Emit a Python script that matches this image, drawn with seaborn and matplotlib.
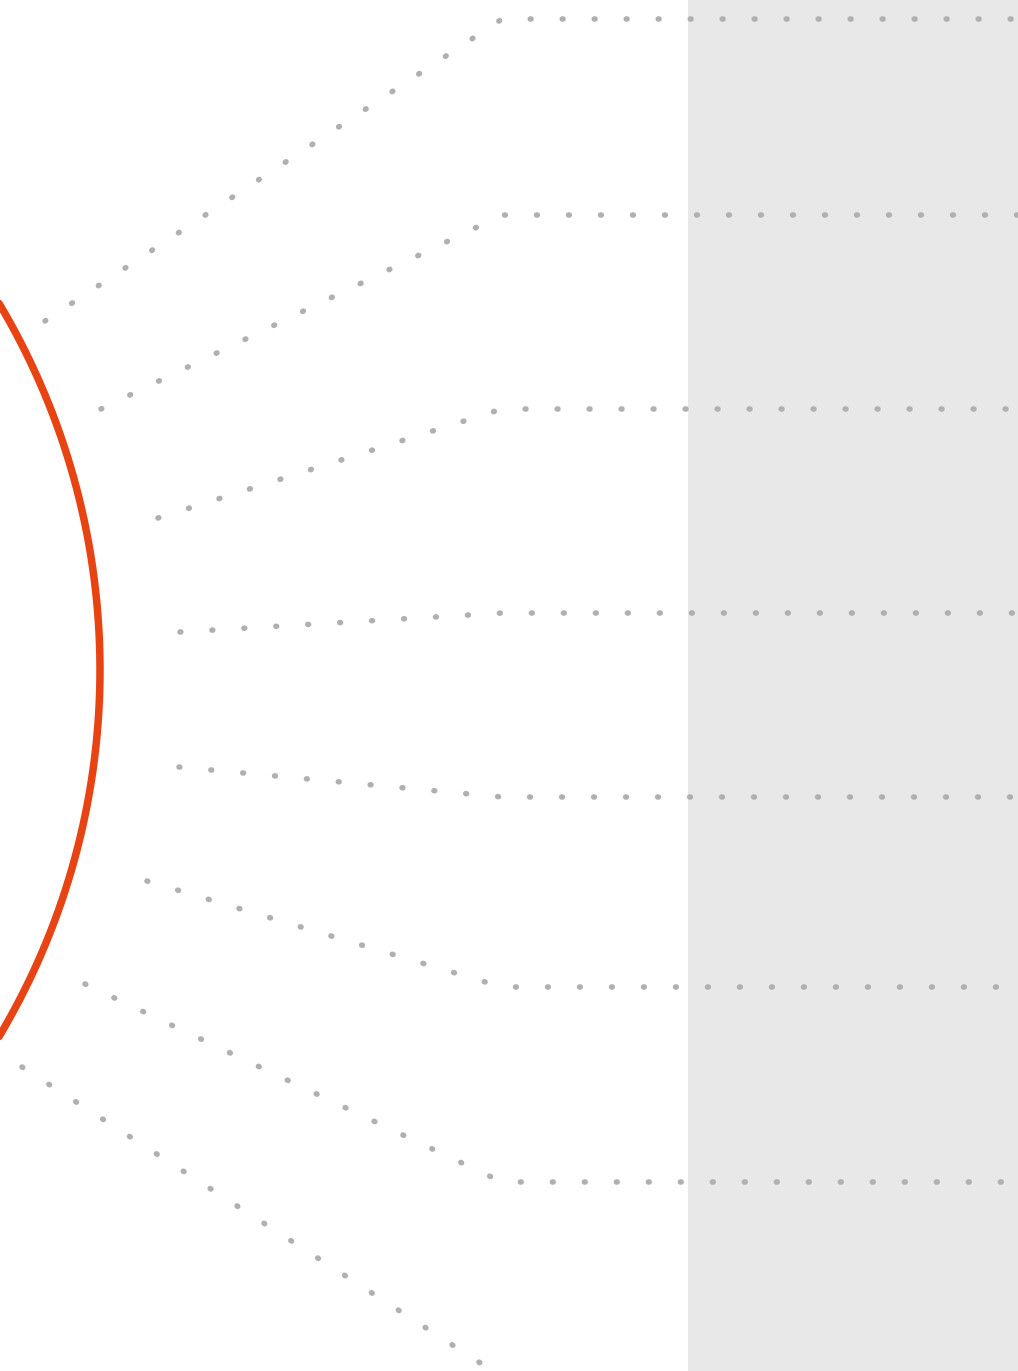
import numpy as np
import pandas as pd
import seaborn as sns
from matplotlib import pyplot as plt

# node positions (pixel space of the original picture)
src_x = [45, 101, 158, 180, 179, 147, 85, 22]
src_y = [321, 409, 518, 632, 767, 881, 984, 1067]
tgt_y = [19, 215, 409, 613, 797, 987, 1182, 1377]
bend_x = 502
end_x = 1040

# big orange ring (center + radius)
ring_cx, ring_cy, ring_r = -616, 670, 716

# grey band on the right
band_x0, band_x1 = 688, 1018

W, H = 1018, 1371

sns.set_style('white')
fig = plt.figure(figsize=(W / 100, H / 100), dpi=100)
ax = fig.add_axes([0, 0, 1, 1])

ax.axvspan(band_x0, band_x1, color='#e8e8e8', lw=0, zorder=0)

rows = []
for i in range(len(src_x)):
    rows.append({'link': i, 'x': src_x[i], 'y': src_y[i]})
    rows.append({'link': i, 'x': bend_x, 'y': tgt_y[i]})
    rows.append({'link': i, 'x': end_x, 'y': tgt_y[i]})
links = pd.DataFrame(rows)

# dots ~5.5px wide, ~32px apart
dot_lw = 4.0
sns.lineplot(data=links, x='x', y='y', units='link', estimator=None, sort=False,
             color='#b0b0b0', lw=dot_lw, linestyle=(0, (0.15, 23.04 / dot_lw - 0.15)),
             dash_capstyle='round', ax=ax, zorder=2)

t = np.linspace(-np.pi / 2, np.pi / 2, 400)
ring = pd.DataFrame({'x': ring_cx + ring_r * np.cos(t), 'y': ring_cy + ring_r * np.sin(t)})
sns.lineplot(data=ring, x='x', y='y', sort=False, estimator=None,
             color='#e84312', lw=5.4, ax=ax, zorder=3)

ax.set_xlim(0, W)
ax.set_ylim(H, 0)
ax.set_axis_off()
ax.set_xlabel('')
ax.set_ylabel('')

fig.savefig('out.png', dpi=100)
